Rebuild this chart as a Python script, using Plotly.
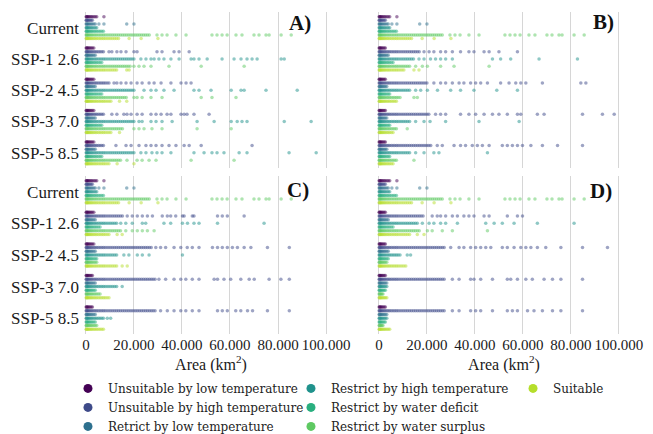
import plotly.graph_objects as go

# ---------------- data (areas in thousand km²) ----------------
SCENARIOS = ["Current", "SSP-1 2.6", "SSP-2 4.5", "SSP-3 7.0", "SSP-5 8.5"]
CLASSES = [
    "Unsuitable by low temperature",
    "Unsuitable by high temperature",
    "Retrict by low temperature",
    "Restrict by high temperature",
    "Restrict by water deficit",
    "Restrict by water surplus",
    "Suitable",
]
COLORS = ["#440154", "#3e4a89", "#2d708e", "#20928c", "#29af7f", "#5ec962", "#b5de2b"]
X_TICKS = [0, 20000, 40000, 60000, 80000, 100000]
X_TICK_TEXT = ["0", "20.000", "40.000", "60.000", "80.000", "100.000"]
PANEL_LABELS = ["A)", "B)", "C)", "D)"]

# dense body of every strip (many small polygons), thousand km²
DENSE = [0.1, 0.3, 0.6, 0.9, 1.3, 1.7, 2.2, 2.7, 3.3, 3.9, 4.5, 5.2, 5.9, 6.6,
         7.3, 8.0, 8.8, 9.6, 10.4, 11.2, 12.0, 12.8, 13.6, 14.4, 15.2, 16.0,
         16.8, 17.6, 18.4, 19.2, 20.0, 20.8, 21.6, 22.4, 23.2, 24.0, 24.8,
         25.6, 26.4, 27.2, 28.0, 28.8, 29.6]

# extent of the dense body per class, and the sparse large polygons per class
CURRENT_BAND = [4.6, 2.8, 4.0, 5.0, 7.8, 27.0, 14.1]
CURRENT_OUT = [[7.5], [], [5.4, 7.5, 17.0, 20.0], [], [],
               [29.6, 31.7, 33.8, 37.5, 41.7, 52.5, 54.6, 56.7, 58.8, 62.5, 65.0,
                70.0, 72.1, 75.0, 76.3, 81.3, 85.5],
               [18.0, 23.0, 30.0]]

A_SSP126_BAND = [3.4, 7.5, 4.2, 20.0, 7.0, 18.8, 13.0]
A_SSP126_OUT = [[], [9.6, 10.8, 12.9, 14.6, 16.7, 20.0, 21.3, 29.6, 31.7, 36.7, 38.8, 43.0], [],
                [22.9, 25.0, 27.1, 28.4, 30.4, 32.5, 35.4, 38.8, 43.8, 45.0, 47.1, 50.5,
                 56.7, 61.7, 64.6, 67.1, 69.2, 71.3, 81.3, 82.6], [],
                [20.0, 22.1, 24.2, 27.1, 34.6, 48.0, 65.9], [17.0, 18.0]]
A_SSP245_BAND = [3.4, 9.6, 4.0, 20.0, 7.0, 17.1, 11.0]
A_SSP245_OUT = [[], [11.7, 12.9, 14.6, 16.7, 18.8, 21.3, 23.4, 26.3, 28.4, 31.3, 35.4, 39.6,
                     41.7, 43.8], [],
                [24.2, 27.1, 29.2, 32.5, 36.7, 45.0, 47.1, 52.1, 60.5, 64.6, 65.9, 75.0, 88.0], [],
                [20.0, 21.3, 23.4, 27.1, 31.7, 48.0, 52.5, 62.5], [14.0, 17.0]]
A_SSP370_BAND = [3.4, 7.5, 4.0, 20.0, 7.0, 15.8, 11.0]
A_SSP370_OUT = [[], [10.8, 12.9, 15.8, 17.1, 18.8, 21.3, 23.4, 27.1, 29.2, 31.3, 33.8, 35.4,
                     39.6, 40.9, 42.1, 45.0, 51.3], [],
                [22.1, 23.4, 27.1, 29.2, 31.7, 35.9, 46.3, 53.4, 60.5, 63.0, 65.0, 67.1, 82.6, 93.8], [],
                [20.0, 22.1, 24.2, 27.5, 31.7, 46.3, 60.5], [14.0]]
A_SSP585_BAND = [3.4, 7.5, 4.0, 20.0, 7.0, 14.6, 10.0]
A_SSP585_OUT = [[], [12.5, 16.7, 18.8, 22.1, 25.0, 27.1, 29.2, 31.7, 34.6, 37.5, 40.9, 43.0,
                     48.0, 69.2], [],
                [22.9, 25.0, 27.5, 29.6, 31.7, 35.4, 45.0, 49.2, 52.5, 54.6, 57.5, 63.8, 67.1,
                 84.6, 95.9], [],
                [17.1, 21.3, 23.4, 26.3, 29.2, 43.8, 61.7], [13.0, 20.0]]

B_SSP126_BAND = [3.0, 17.4, 4.0, 14.6, 6.0, 13.2, 10.4]
B_SSP126_OUT = [[], [18.8, 20.9, 22.9, 25.7, 27.8, 30.6, 34.0, 37.5, 39.6, 43.8, 45.9, 50.0, 57.7], [],
                [16.7, 18.8, 21.5, 23.6, 25.7, 27.8, 30.6, 47.3, 50.7, 54.9, 66.7, 82.7], [],
                [15.3, 18.1, 20.2, 25.7, 31.3, 45.9], [14.6, 16.7]]
B_SSP245_BAND = [3.0, 20.1, 3.5, 13.2, 5.0, 9.0, 7.6]
B_SSP245_OUT = [[], [22.9, 25.7, 27.8, 30.6, 33.4, 35.4, 38.2, 40.3, 42.4, 45.2, 50.7, 54.2,
                     57.0, 59.1, 61.2, 68.1, 84.1, 86.2], [],
                [15.3, 17.4, 20.2, 24.4, 29.9, 34.0, 39.6, 49.1, 57.7], [], [14.6, 16.0], []]
B_SSP370_BAND = [3.0, 21.5, 3.5, 13.2, 5.0, 7.6, 6.3]
B_SSP370_OUT = [[], [23.6, 25.7, 27.8, 34.0, 37.5, 40.3, 43.8, 47.3, 50.0, 53.5, 57.7, 59.1,
                     66.0, 68.8, 84.8, 93.1, 98.0], [],
                [15.3, 18.8, 21.3, 27.8, 41.7, 58.4], [], [11.8], []]
B_SSP585_BAND = [3.0, 22.2, 3.5, 13.2, 5.0, 7.6, 6.3]
B_SSP585_OUT = [[], [24.3, 26.4, 31.3, 34.0, 36.1, 38.9, 41.0, 43.1, 45.9, 51.4, 53.5, 55.6,
                     57.7, 59.8, 63.3, 68.1, 74.4, 84.8], [],
                [15.3, 18.8, 22.9, 25.0, 45.2], [], [14.6], []]

C_SSP126_BAND = [3.3, 15.8, 4.0, 13.0, 6.0, 14.5, 10.3]
C_SSP126_OUT = [[], [17.2, 19.3, 21.4, 23.5, 25.6, 27.7, 31.8, 33.9, 35.3, 37.4, 40.2, 40.9,
                     44.3, 45.0, 54.8, 56.8, 58.9, 65.9], [],
                [14.5, 16.6, 19.3, 23.5, 24.9, 32.5, 35.3, 40.2, 42.3, 45.0, 47.1, 54.8, 74.2], [],
                [16.6, 19.3, 21.4, 23.5, 25.6, 28.4], [13.0, 15.1]]
C_SSP245_BAND = [3.3, 27.7, 4.0, 13.0, 5.0, 4.7, 13.0]
C_SSP245_OUT = [[], [29.1, 31.1, 33.2, 36.7, 39.5, 42.2, 44.3, 47.1, 52.7, 54.8, 56.8, 58.9,
                     61.0, 63.1, 65.9, 68.7, 75.6, 84.7], [],
                [15.8, 17.9, 21.4, 23.5, 26.3, 40.2], [], [], [15.1, 17.2]]
C_SSP370_BAND = [3.0, 29.1, 4.0, 13.0, 4.0, 6.0, 10.0]
C_SSP370_OUT = [[], [30.4, 33.2, 36.7, 39.5, 41.6, 44.3, 47.1, 53.4, 54.8, 57.5, 60.3, 64.5,
                     68.0, 70.1, 76.3, 81.2, 84.7], [], [15.1], [], [], []]
C_SSP585_BAND = [3.0, 29.1, 4.0, 7.5, 4.0, 4.7, 7.5]
C_SSP585_OUT = [[], [31.1, 33.9, 36.7, 39.5, 41.6, 44.3, 47.1, 54.8, 56.8, 58.9, 62.4, 64.5,
                     67.3, 69.4, 75.6, 84.7], [], [8.9, 10.3], [], [], []]

D_SSP126_BAND = [3.0, 18.8, 4.0, 16.0, 6.0, 17.4, 13.2]
D_SSP126_OUT = [[], [22.2, 24.3, 25.7, 27.8, 30.6, 32.7, 35.4, 37.5, 39.6, 43.8, 45.9, 53.5,
                     57.7, 59.8], [],
                [18.1, 20.9, 22.9, 25.7, 27.8, 32.7, 44.5, 48.0, 51.4, 56.3, 66.0, 81.3], [],
                [20.2, 22.2, 26.4, 30.6, 45.2], [16.0, 18.8]]
D_SSP245_BAND = [3.0, 27.8, 4.0, 9.0, 4.0, 3.5, 11.8]
D_SSP245_OUT = [[], [29.9, 33.4, 35.4, 38.2, 40.3, 42.4, 44.5, 46.6, 51.4, 53.5, 56.3, 59.1,
                     61.2, 63.3, 66.0, 69.5, 75.8, 84.8, 95.2], [], [11.8, 13.2], [], [], []]
D_SSP370_BAND = [3.0, 27.8, 3.5, 3.5, 3.0, 2.0, 3.5]
D_SSP370_OUT = [[], [30.6, 33.4, 38.2, 39.6, 42.4, 47.3, 53.5, 54.9, 57.7, 61.2, 63.9, 68.8,
                     72.3, 75.8, 84.8], [], [], [], [], []]
D_SSP585_BAND = [3.0, 27.8, 3.5, 3.5, 3.0, 2.0, 5.0]
D_SSP585_OUT = [[], [30.6, 33.4, 38.2, 40.3, 42.4, 47.3, 53.5, 55.6, 57.7, 61.9, 64.6, 68.1,
                     72.3, 75.8, 84.8], [], [], [], [], []]

PANELS = [
    [(CURRENT_BAND, CURRENT_OUT), (A_SSP126_BAND, A_SSP126_OUT), (A_SSP245_BAND, A_SSP245_OUT),
     (A_SSP370_BAND, A_SSP370_OUT), (A_SSP585_BAND, A_SSP585_OUT)],
    [(CURRENT_BAND, CURRENT_OUT), (B_SSP126_BAND, B_SSP126_OUT), (B_SSP245_BAND, B_SSP245_OUT),
     (B_SSP370_BAND, B_SSP370_OUT), (B_SSP585_BAND, B_SSP585_OUT)],
    [(CURRENT_BAND, CURRENT_OUT), (C_SSP126_BAND, C_SSP126_OUT), (C_SSP245_BAND, C_SSP245_OUT),
     (C_SSP370_BAND, C_SSP370_OUT), (C_SSP585_BAND, C_SSP585_OUT)],
    [(CURRENT_BAND, CURRENT_OUT), (D_SSP126_BAND, D_SSP126_OUT), (D_SSP245_BAND, D_SSP245_OUT),
     (D_SSP370_BAND, D_SSP370_OUT), (D_SSP585_BAND, D_SSP585_OUT)],
]

# ---------------- figure ----------------
SERIF = "Liberation Serif, Times New Roman, Times, serif"
OFFSETS = [-0.35 + k * 0.7 / 6 for k in range(len(CLASSES))]
AX = ["", "2", "3", "4"]

fig = go.Figure()
for p, panel in enumerate(PANELS):
    for k, cls in enumerate(CLASSES):
        xs, ys = [], []
        for s, (band, out) in enumerate(panel):
            vals = [v for v in DENSE if v <= band[k]] + out[k]
            xs += [v * 1000 for v in vals]
            ys += [s + OFFSETS[k]] * len(vals)
        fig.add_trace(go.Scatter(
            x=xs, y=ys, mode="markers", xaxis="x" + AX[p], yaxis="y" + AX[p],
            marker=dict(size=3.5, color=COLORS[k], opacity=0.5, line=dict(width=0)),
            name=cls, legendgroup=cls, showlegend=False, hoverinfo="x+name"))

# legend entries: three columns, one legend per column
LEGEND_COLUMNS = [[0, 1, 2], [3, 4, 5], [6]]
LEGEND_IDS = ["legend", "legend2", "legend3"]
for c, col in enumerate(LEGEND_COLUMNS):
    for k in col:
        fig.add_trace(go.Scatter(x=[None], y=[None], mode="markers", name=CLASSES[k],
                                 legendgroup=CLASSES[k], legend=LEGEND_IDS[c],
                                 marker=dict(size=9, color=COLORS[k]),
                                 showlegend=True))

xdom = [[0, 0.4644], [0.5356, 1], [0, 0.4644], [0.5356, 1]]
ydom = [[0.514, 1], [0.514, 1], [0, 0.491], [0, 0.491]]
for p in range(4):
    bottom = p >= 2
    xa = dict(
        domain=xdom[p], anchor="y" + AX[p], range=[-800, 105000],
        tickvals=X_TICKS, ticktext=X_TICK_TEXT, showticklabels=bottom,
        tickangle=0,
        showgrid=True, gridcolor="#d6d6d6", gridwidth=1, zeroline=False,
        showline=False, ticks="",
        tickfont=dict(family=SERIF, size=15, color="#1a1a1a"),
    )
    if bottom:
        xa["title"] = dict(text="Area (km<sup>2</sup>)",
                           font=dict(family=SERIF, size=16, color="#1a1a1a"), standoff=0)
    fig.update_layout(**{
        "xaxis" + AX[p]: xa,
        "yaxis" + AX[p]: dict(
            domain=ydom[p], anchor="x" + AX[p], range=[4.5, -0.5],
            tickvals=list(range(len(SCENARIOS))), ticktext=SCENARIOS,
            showticklabels=(p % 2 == 0), showgrid=False, zeroline=False,
            showline=False, ticks="", ticklabelstandoff=4,
            tickfont=dict(family=SERIF, size=17, color="#1a1a1a"),
        ),
    })

label_pos = [(0.850, 0.932), (0.890, 0.939), (0.843, 0.911), (0.882, 0.905)]
for p, lab in enumerate(PANEL_LABELS):
    fig.add_annotation(text="<b>" + lab + "</b>", xref="x" + AX[p] + " domain",
                       yref="y" + AX[p] + " domain", x=label_pos[p][0], y=label_pos[p][1],
                       xanchor="center", yanchor="middle", showarrow=False,
                       font=dict(family=SERIF, size=21, color="#111111"))

leg_common = dict(orientation="v", xanchor="left", yanchor="top", y=-0.124,
                  traceorder="normal",
                  font=dict(family="DejaVu Serif", size=12, color="#222222"),
                  itemsizing="trace", bgcolor="rgba(0,0,0,0)", tracegroupgap=0)
fig.update_layout(
    width=653, height=434,
    margin=dict(l=84, r=22, t=12, b=100, autoexpand=False),
    paper_bgcolor="white", plot_bgcolor="white",
    showlegend=True,
    legend=dict(x=-0.0293, **leg_common),
    legend2=dict(x=0.3784, **leg_common),
    legend3=dict(x=0.7843, **leg_common),
)

fig.write_html("out.html",
               config={"displayModeBar": False},
               post_script="document.body.style.margin='0px';")
